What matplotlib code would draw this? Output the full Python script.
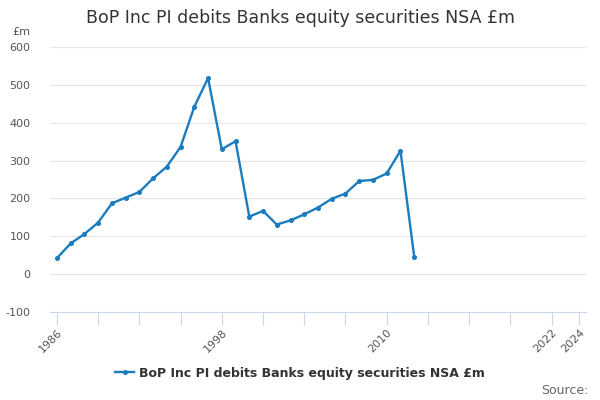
import numpy as np
import matplotlib
matplotlib.use('Agg')
import matplotlib.pyplot as plt

# ================================================
# DATA
# ================================================
years  = list(range(1986, 2013))
values = [42, 81, 106, 136, 187, 202, 217, 253, 284, 336, 442, 518, 330, 351,
          152, 167, 131, 142, 158, 176, 199, 213, 246, 249, 266, 326, 46]
xticks      = list(range(1986, 2023, 3)) + [2024]
xticklabels = ['1986' if t == 1986 else '1998' if t == 1998 else '2010' if t == 2010
               else '2022' if t == 2022 else '2024' if t == 2024 else '' for t in xticks]
yticks = [-100, 0, 100, 200, 300, 400, 500, 600]
title  = 'BoP Inc PI debits Banks equity securities NSA £m'
# ================================================

plt.rcParams['font.family'] = ['DejaVu Sans']
fig = plt.figure(figsize=(6, 4), dpi=100)
ax  = fig.add_axes([50/600, 1 - 312/400, 536/600, 265/400])

for y in yticks[1:]:
    ax.axhline(y, lw=0.8, c='#e6e6e6', zorder=0)
ax.plot(years, values, lw=1.7, c='#1b7cc0', marker='o', markersize=2.6, zorder=3,
        label=title)

ax.set_xlim(1985.5, 2024.5)
ax.set_ylim(-100, 600)
ax.set_yticks(yticks)
ax.set_yticklabels([str(y) for y in yticks], fontsize=8, color='#555555')
ax.set_xticks(xticks)
ax.set_xticklabels(xticklabels, fontsize=8, color='#555555', rotation=45,
                   ha='right', rotation_mode='anchor')
ax.tick_params(axis='y', length=0, pad=14)
ax.tick_params(axis='x', length=9, width=0.8, color='#ccd6eb', pad=2)
for s in ['top', 'right', 'left']:
    ax.spines[s].set_visible(False)
ax.spines['bottom'].set_color('#ccd6eb')
ax.spines['bottom'].set_linewidth(0.8)

fig.text(0.5, 1 - 18/400, title, ha='center', va='center', fontsize=12.5, color='#333333')
fig.text(12/600, 1 - 32/400, '£m', ha='left', va='center', fontsize=8, color='#555555')
fig.legend(loc='center', bbox_to_anchor=(0.5, 1 - 373/400), frameon=False,
           prop={'size': 9, 'weight': 'bold'}, labelcolor='#333333',
           handlelength=1.5, handletextpad=0.4)
fig.text(589/600, 1 - 390/400, 'Source:', ha='right', va='center', fontsize=9, color='#666666')

plt.savefig('out.png', dpi=100)
plt.close()
